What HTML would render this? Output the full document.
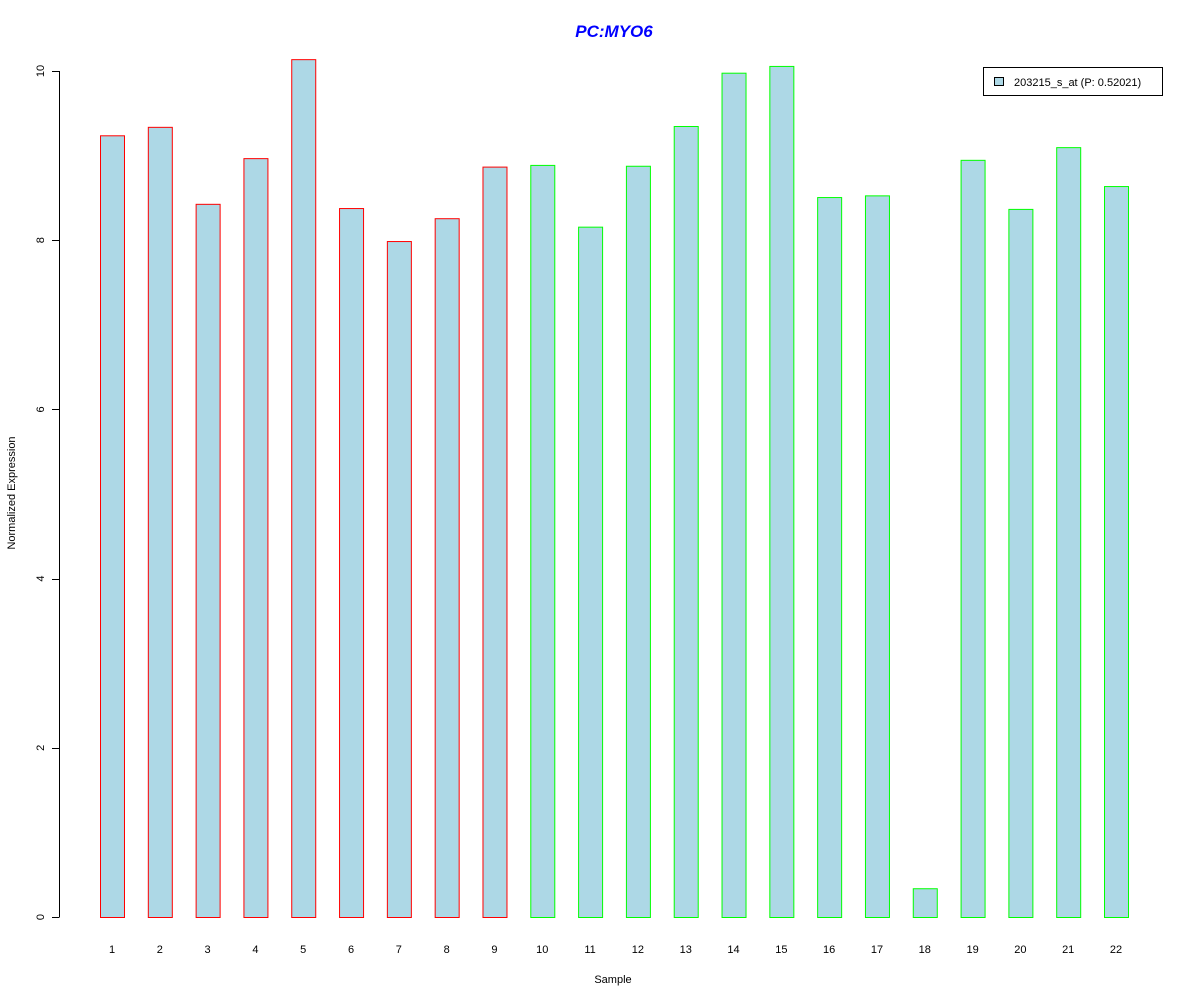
<!DOCTYPE html>
<html><head><meta charset="utf-8"><style>
body{margin:0;background:#fff;}
svg{display:block;font-family:"Liberation Sans",Arial,sans-serif;}
</style></head><body>
<svg id="chart" width="1200" height="1000">
<text x="614" y="37" text-anchor="middle" font-size="17" font-weight="bold" font-style="italic" fill="#0000ff">PC:MYO6</text>
<text x="0" y="0" transform="translate(15,493) rotate(-90)" text-anchor="middle" font-size="11">Normalized Expression</text>
<text x="613" y="983" text-anchor="middle" font-size="11">Sample</text>
<g id="yaxis"></g>
<g id="bars"></g>
<g id="xlabels"></g>
<g>
<rect x="983.5" y="67.5" width="179" height="28" fill="#fff" stroke="#000"/>
<rect x="994.5" y="77.5" width="9" height="8" fill="#add8e6" stroke="#000"/>
<text x="1014" y="86" font-size="11">203215_s_at (P: 0.52021)</text>
</g>
</svg>
<script>
const categories=["1","2","3","4","5","6","7","8","9","10","11","12","13","14","15","16","17","18","19","20","21","22"];
const values=[9.24,9.34,8.43,8.97,10.14,8.38,7.99,8.26,8.87,8.89,8.16,8.88,9.35,9.98,10.06,8.51,8.53,0.34,8.95,8.37,9.10,8.64];
const groups=["a","a","a","a","a","a","a","a","a","b","b","b","b","b","b","b","b","b","b","b","b","b"];
const yTicks=[0,2,4,6,8,10];
const NS="http://www.w3.org/2000/svg";
const y=v=>917-v*84.6;
const x=i=>100+i*47.81;
const bw=24;
const bars=document.getElementById('bars');
const xl=document.getElementById('xlabels');
values.forEach((v,i)=>{
  const r=document.createElementNS(NS,'rect');
  
  
  r.setAttribute('x',x(i)+0.5);r.setAttribute('y',y(v)+0.5);
  r.setAttribute('width',bw);r.setAttribute('height',917-y(v));
  r.setAttribute('fill','#add8e6');
  r.setAttribute('stroke',groups[i]==="a"?'#ff0000':'#00ff00');
  bars.appendChild(r);
  const t=document.createElementNS(NS,'text');
  
  
  t.setAttribute('x',x(i)+bw/2);t.setAttribute('y',953);
  t.setAttribute('text-anchor','middle');t.setAttribute('font-size','11');
  t.textContent=categories[i];
  xl.appendChild(t);
});
const ya=document.getElementById('yaxis');
const ln=document.createElementNS(NS,'line');


ln.setAttribute('x1',59.5);ln.setAttribute('x2',59.5);ln.setAttribute('y1',y(0));ln.setAttribute('y2',y(10));
ln.setAttribute('stroke','#000');ya.appendChild(ln);
yTicks.forEach(v=>{
  const tk=document.createElementNS(NS,'line');
  
  
  tk.setAttribute('x1',52);tk.setAttribute('x2',59.5);
  tk.setAttribute('y1',Math.round(y(v))+0.5);tk.setAttribute('y2',Math.round(y(v))+0.5);
  tk.setAttribute('stroke','#000');ya.appendChild(tk);
  const t=document.createElementNS(NS,'text');
  
  
  t.setAttribute('transform','translate(44,'+y(v)+') rotate(-90)');
  t.setAttribute('text-anchor','middle');t.setAttribute('font-size','11');
  t.textContent=v;ya.appendChild(t);
});
</script>
</body></html>
